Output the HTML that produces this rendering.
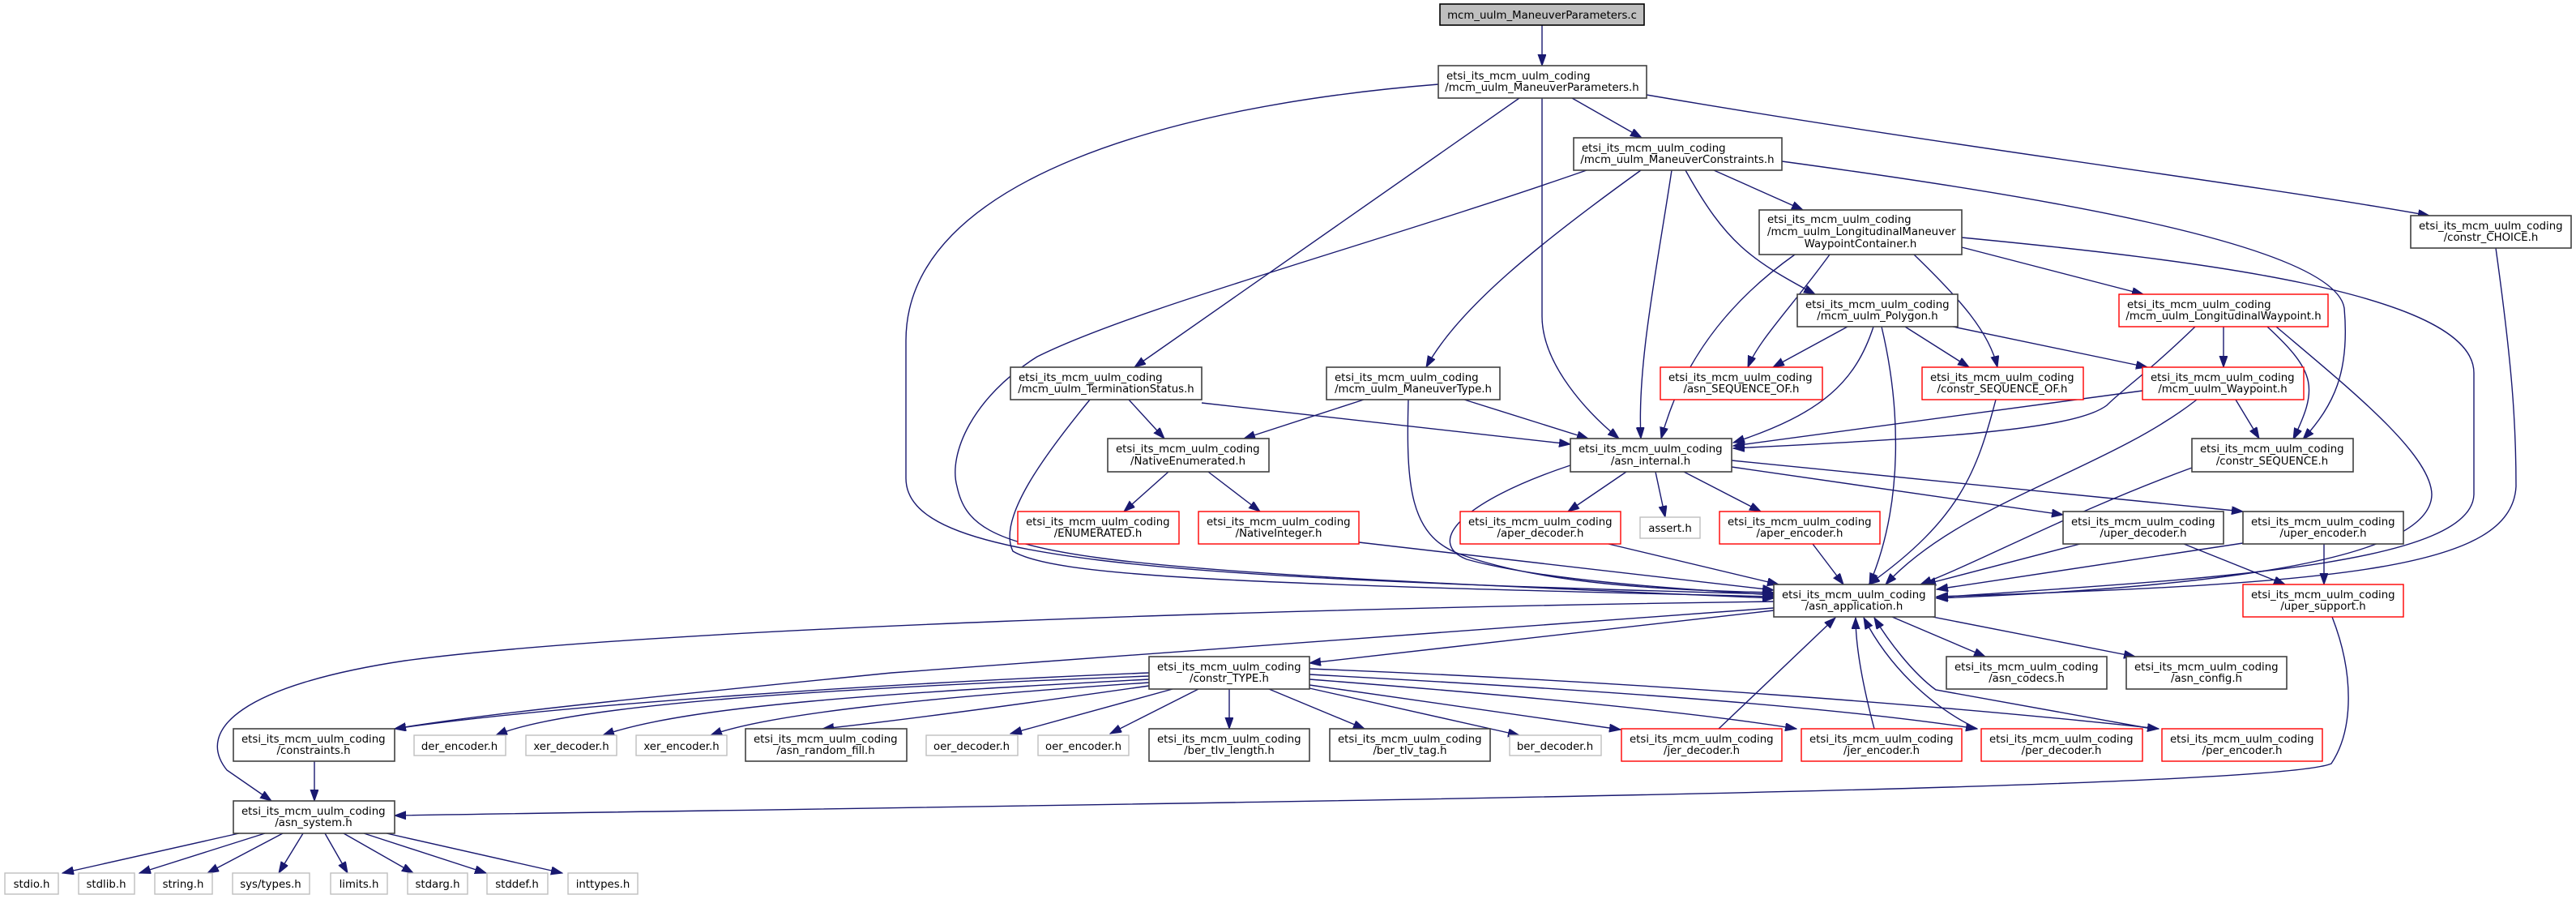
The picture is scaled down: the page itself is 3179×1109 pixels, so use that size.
<!DOCTYPE html>
<html><head><meta charset="utf-8"><style>
html,body{margin:0;padding:0;background:#fff;}
svg{display:block;}
text{font-family:"DejaVu Sans","Liberation Sans",sans-serif;font-size:13.3px;fill:#000;}
.e{fill:none;stroke:#191970;stroke-width:1.4;marker-end:url(#a);}
.b{fill:#fff;stroke:#404040;stroke-width:1.6;}
.r{fill:#fff;stroke:#ff0000;stroke-width:1.4;}
.g{fill:#fff;stroke:#bfbfbf;stroke-width:1.4;}
.m{text-anchor:middle;}
</style></head><body>
<svg width="3179" height="1109" viewBox="0 0 3179 1109" xmlns="http://www.w3.org/2000/svg">
<defs><marker id="a" markerUnits="userSpaceOnUse" markerWidth="15" markerHeight="11" refX="14" refY="5" orient="auto"><path d="M0,0 L14,5 L0,10 z" fill="#191970" stroke="#191970"/></marker></defs>
<!-- edges -->
<path class="e" d="M1903,31 L1903,81"/>
<path class="e" d="M1775,104 C1450,130 1118,220 1118,420 L1118,590 C1118,690 1400,712 2189,733"/>
<path class="e" d="M1940,121 L2026,170"/>
<path class="e" d="M1875,121 L1400,453"/>
<path class="e" d="M1903,121 L1903,390 C1903,450 1960,510 1998,541"/>
<path class="e" d="M2032,117 C2400,180 2800,230 2998,266"/>
<path class="e" d="M1958,210 C1700,300 1400,380 1280,440 C1200,490 1170,560 1181,600 C1200,690 1300,700 2189,738"/>
<path class="e" d="M2025,210 C1900,300 1800,380 1760,453"/>
<path class="e" d="M2063,210 C2045,330 2020,450 2025,541"/>
<path class="e" d="M2080,210 C2130,300 2160,320 2240,363"/>
<path class="e" d="M2115,210 L2225,259"/>
<path class="e" d="M2199,199 C2500,240 2880,300 2893,380 C2900,460 2880,500 2842,542"/>
<path class="e" d="M2215,314 C2150,360 2080,430 2050,541"/>
<path class="e" d="M2258,314 C2210,380 2170,420 2157,453"/>
<path class="e" d="M2362,314 C2420,370 2455,410 2465,453"/>
<path class="e" d="M2421,305 L2645,363"/>
<path class="e" d="M2421,293 C2700,320 3053,360 3053,460 L3053,610 C3050,700 2700,715 2390,737"/>
<path class="e" d="M2280,403 L2188,453"/>
<path class="e" d="M2351,403 L2430,453"/>
<path class="e" d="M2410,403 L2650,453"/>
<path class="e" d="M2312,403 C2290,470 2250,510 2139,546"/>
<path class="e" d="M2322,403 C2345,500 2350,620 2307,721"/>
<path class="e" d="M2709,403 C2650,460 2620,480 2600,500 C2560,530 2400,540 2139,553"/>
<path class="e" d="M2744,403 L2744,453"/>
<path class="e" d="M2798,403 C2860,460 2860,480 2830,542"/>
<path class="e" d="M2809,403 C2900,480 3000,560 3001,610 C3000,680 2800,722 2390,738"/>
<path class="e" d="M2644,482 L2139,550"/>
<path class="e" d="M2759,493 L2788,541"/>
<path class="e" d="M2711,493 C2600,580 2420,620 2327,721"/>
<path class="e" d="M2463,493 C2440,580 2420,640 2306,721"/>
<path class="e" d="M2705,577 C2560,630 2450,690 2370,721"/>
<path class="e" d="M3080,306 C3100,450 3105,520 3105,600 C3100,700 2900,720 2390,736"/>
<path class="e" d="M1393,493 L1437,541"/>
<path class="e" d="M1483,497 L1938,548"/>
<path class="e" d="M1345,493 C1290,560 1230,640 1250,680 C1300,710 1500,720 2189,736"/>
<path class="e" d="M1683,493 L1535,541"/>
<path class="e" d="M1807,493 L1960,541"/>
<path class="e" d="M1738,493 C1735,600 1740,660 1800,683 C1900,720 2050,728 2189,731"/>
<path class="e" d="M1442,582 L1387,631"/>
<path class="e" d="M1491,582 L1555,631"/>
<path class="e" d="M1677,669 L2189,728"/>
<path class="e" d="M2007,582 L1935,631"/>
<path class="e" d="M2043,582 L2055,638"/>
<path class="e" d="M2078,582 L2173,631"/>
<path class="e" d="M2137,576 L2546,635"/>
<path class="e" d="M2137,568 L2768,631"/>
<path class="e" d="M1938,574 C1800,620 1760,670 1810,690 C1900,715 2050,725 2189,734"/>
<path class="e" d="M1985,671 L2195,721"/>
<path class="e" d="M2237,671 L2275,721"/>
<path class="e" d="M2567,671 L2375,721"/>
<path class="e" d="M2695,671 L2820,721"/>
<path class="e" d="M2768,670 L2390,727"/>
<path class="e" d="M2868,671 L2868,721"/>
<path class="e" d="M2878,761 C2905,830 2905,900 2877,942 C2800,975 1500,990 487,1006"/>
<path class="e" d="M2335,761 L2450,810"/>
<path class="e" d="M2385,761 L2635,810"/>
<path class="e" d="M2189,753 L1616,818"/>
<path class="e" d="M2189,742 C1600,750 800,775 500,815 C300,845 240,900 280,950 L335,988"/>
<path class="e" d="M2189,750 L1100,830 C800,860 600,880 487,899"/>
<path class="e" d="M1418,830 C1100,843 700,868 487,899"/>
<path class="e" d="M1418,834 C1000,850 700,870 612,907"/>
<path class="e" d="M1418,838 C1100,855 850,870 744,907"/>
<path class="e" d="M1418,842 C1150,860 950,880 877,907"/>
<path class="e" d="M1418,846 C1250,870 1100,890 1015,899"/>
<path class="e" d="M1447,850 L1247,905"/>
<path class="e" d="M1479,850 L1370,905"/>
<path class="e" d="M1517,850 L1517,899"/>
<path class="e" d="M1566,850 L1684,899"/>
<path class="e" d="M1616,849 L1875,907"/>
<path class="e" d="M1616,845 L2000,900"/>
<path class="e" d="M1616,838 C1900,860 2100,880 2217,899"/>
<path class="e" d="M1616,832 C1950,850 2250,870 2440,899"/>
<path class="e" d="M1616,825 C2000,840 2400,870 2664,899"/>
<path class="e" d="M2121,899 L2265,762"/>
<path class="e" d="M2313,899 C2300,850 2290,800 2290,762"/>
<path class="e" d="M2440,899 C2380,870 2330,820 2300,762"/>
<path class="e" d="M2650,898 L2389,851 C2360,830 2330,790 2313,762"/>
<path class="e" d="M388,939 L388,988"/>
<path class="e" d="M295,1028 L77,1077"/>
<path class="e" d="M327,1028 L172,1077"/>
<path class="e" d="M349,1028 L256,1077"/>
<path class="e" d="M374,1028 L344,1077"/>
<path class="e" d="M401,1028 L429,1077"/>
<path class="e" d="M424,1028 L510,1077"/>
<path class="e" d="M449,1028 L600,1077"/>
<path class="e" d="M477,1028 L694,1077"/>
<!-- nodes -->
<rect x="1777" y="5" width="252" height="26" fill="#bfbfbf" stroke="#000" stroke-width="1.6"/><text x="1903" y="23" class="m">mcm_uulm_ManeuverParameters.c</text>
<rect class="b" x="1775" y="81" width="257" height="40"/><text x="1785" y="98">etsi_its_mcm_uulm_coding</text><text x="1903" y="112" class="m">/mcm_uulm_ManeuverParameters.h</text>
<rect class="b" x="1942" y="170" width="257" height="40"/><text x="1952" y="187">etsi_its_mcm_uulm_coding</text><text x="2070" y="201" class="m">/mcm_uulm_ManeuverConstraints.h</text>
<rect class="b" x="1247" y="453" width="236" height="40"/><text x="1257" y="470">etsi_its_mcm_uulm_coding</text><text x="1365" y="484" class="m">/mcm_uulm_TerminationStatus.h</text>
<rect class="b" x="1637" y="453" width="214" height="40"/><text x="1647" y="470">etsi_its_mcm_uulm_coding</text><text x="1744" y="484" class="m">/mcm_uulm_ManeuverType.h</text>
<rect class="b" x="2171" y="259" width="250" height="55"/><text x="2181" y="275">etsi_its_mcm_uulm_coding</text><text x="2181" y="290">/mcm_uulm_LongitudinalManeuver</text><text x="2296" y="305" class="m">WaypointContainer.h</text>
<rect class="b" x="2975" y="266" width="198" height="40"/><text x="2985" y="283">etsi_its_mcm_uulm_coding</text><text x="3074" y="297" class="m">/constr_CHOICE.h</text>
<rect class="b" x="2218" y="363" width="198" height="40"/><text x="2228" y="380">etsi_its_mcm_uulm_coding</text><text x="2317" y="394" class="m">/mcm_uulm_Polygon.h</text>
<rect class="r" x="2615" y="363" width="258" height="40"/><text x="2625" y="380">etsi_its_mcm_uulm_coding</text><text x="2744" y="394" class="m">/mcm_uulm_LongitudinalWaypoint.h</text>
<rect class="r" x="2049" y="453" width="200" height="40"/><text x="2059" y="470">etsi_its_mcm_uulm_coding</text><text x="2149" y="484" class="m">/asn_SEQUENCE_OF.h</text>
<rect class="r" x="2372" y="453" width="199" height="40"/><text x="2382" y="470">etsi_its_mcm_uulm_coding</text><text x="2471" y="484" class="m">/constr_SEQUENCE_OF.h</text>
<rect class="r" x="2644" y="453" width="199" height="40"/><text x="2654" y="470">etsi_its_mcm_uulm_coding</text><text x="2743" y="484" class="m">/mcm_uulm_Waypoint.h</text>
<rect class="b" x="1367" y="541" width="199" height="41"/><text x="1377" y="558">etsi_its_mcm_uulm_coding</text><text x="1466" y="573" class="m">/NativeEnumerated.h</text>
<rect class="b" x="1938" y="541" width="199" height="41"/><text x="1948" y="558">etsi_its_mcm_uulm_coding</text><text x="2037" y="573" class="m">/asn_internal.h</text>
<rect class="b" x="2705" y="541" width="199" height="41"/><text x="2715" y="558">etsi_its_mcm_uulm_coding</text><text x="2804" y="573" class="m">/constr_SEQUENCE.h</text>
<rect class="r" x="1256" y="631" width="199" height="40"/><text x="1266" y="648">etsi_its_mcm_uulm_coding</text><text x="1355" y="662" class="m">/ENUMERATED.h</text>
<rect class="r" x="1479" y="631" width="198" height="40"/><text x="1489" y="648">etsi_its_mcm_uulm_coding</text><text x="1578" y="662" class="m">/NativeInteger.h</text>
<rect class="r" x="1802" y="631" width="198" height="40"/><text x="1812" y="648">etsi_its_mcm_uulm_coding</text><text x="1901" y="662" class="m">/aper_decoder.h</text>
<rect class="g" x="2024" y="638" width="74" height="26"/><text x="2061" y="656" class="m">assert.h</text>
<rect class="r" x="2122" y="631" width="198" height="40"/><text x="2132" y="648">etsi_its_mcm_uulm_coding</text><text x="2221" y="662" class="m">/aper_encoder.h</text>
<rect class="b" x="2546" y="631" width="198" height="40"/><text x="2556" y="648">etsi_its_mcm_uulm_coding</text><text x="2645" y="662" class="m">/uper_decoder.h</text>
<rect class="b" x="2768" y="631" width="198" height="40"/><text x="2778" y="648">etsi_its_mcm_uulm_coding</text><text x="2867" y="662" class="m">/uper_encoder.h</text>
<rect class="b" x="2189" y="721" width="199" height="40"/><text x="2199" y="738">etsi_its_mcm_uulm_coding</text><text x="2288" y="752" class="m">/asn_application.h</text>
<rect class="r" x="2768" y="721" width="198" height="40"/><text x="2778" y="738">etsi_its_mcm_uulm_coding</text><text x="2867" y="752" class="m">/uper_support.h</text>
<rect class="b" x="1418" y="810" width="198" height="40"/><text x="1428" y="827">etsi_its_mcm_uulm_coding</text><text x="1517" y="841" class="m">/constr_TYPE.h</text>
<rect class="b" x="2402" y="810" width="198" height="40"/><text x="2412" y="827">etsi_its_mcm_uulm_coding</text><text x="2501" y="841" class="m">/asn_codecs.h</text>
<rect class="b" x="2624" y="810" width="198" height="40"/><text x="2634" y="827">etsi_its_mcm_uulm_coding</text><text x="2723" y="841" class="m">/asn_config.h</text>
<rect class="b" x="288" y="899" width="199" height="40"/><text x="298" y="916">etsi_its_mcm_uulm_coding</text><text x="387" y="930" class="m">/constraints.h</text>
<rect class="g" x="511" y="907" width="113" height="25"/><text x="567" y="925" class="m">der_encoder.h</text>
<rect class="g" x="649" y="907" width="112" height="25"/><text x="705" y="925" class="m">xer_decoder.h</text>
<rect class="g" x="785" y="907" width="112" height="25"/><text x="841" y="925" class="m">xer_encoder.h</text>
<rect class="b" x="920" y="899" width="199" height="40"/><text x="930" y="916">etsi_its_mcm_uulm_coding</text><text x="1019" y="930" class="m">/asn_random_fill.h</text>
<rect class="g" x="1143" y="907" width="113" height="25"/><text x="1199" y="925" class="m">oer_decoder.h</text>
<rect class="g" x="1281" y="907" width="112" height="25"/><text x="1337" y="925" class="m">oer_encoder.h</text>
<rect class="b" x="1418" y="899" width="198" height="40"/><text x="1428" y="916">etsi_its_mcm_uulm_coding</text><text x="1517" y="930" class="m">/ber_tlv_length.h</text>
<rect class="b" x="1641" y="899" width="198" height="40"/><text x="1651" y="916">etsi_its_mcm_uulm_coding</text><text x="1740" y="930" class="m">/ber_tlv_tag.h</text>
<rect class="g" x="1863" y="907" width="113" height="25"/><text x="1919" y="925" class="m">ber_decoder.h</text>
<rect class="r" x="2001" y="899" width="198" height="40"/><text x="2011" y="916">etsi_its_mcm_uulm_coding</text><text x="2100" y="930" class="m">/jer_decoder.h</text>
<rect class="r" x="2223" y="899" width="198" height="40"/><text x="2233" y="916">etsi_its_mcm_uulm_coding</text><text x="2322" y="930" class="m">/jer_encoder.h</text>
<rect class="r" x="2445" y="899" width="199" height="40"/><text x="2455" y="916">etsi_its_mcm_uulm_coding</text><text x="2544" y="930" class="m">/per_decoder.h</text>
<rect class="r" x="2668" y="899" width="198" height="40"/><text x="2678" y="916">etsi_its_mcm_uulm_coding</text><text x="2767" y="930" class="m">/per_encoder.h</text>
<rect class="b" x="288" y="988" width="199" height="40"/><text x="298" y="1005">etsi_its_mcm_uulm_coding</text><text x="387" y="1019" class="m">/asn_system.h</text>
<rect class="g" x="6" y="1077" width="66" height="26"/><text x="39" y="1095" class="m">stdio.h</text>
<rect class="g" x="97" y="1077" width="69" height="26"/><text x="131" y="1095" class="m">stdlib.h</text>
<rect class="g" x="191" y="1077" width="71" height="26"/><text x="226" y="1095" class="m">string.h</text>
<rect class="g" x="287" y="1077" width="95" height="26"/><text x="334" y="1095" class="m">sys/types.h</text>
<rect class="g" x="408" y="1077" width="70" height="26"/><text x="443" y="1095" class="m">limits.h</text>
<rect class="g" x="503" y="1077" width="74" height="26"/><text x="540" y="1095" class="m">stdarg.h</text>
<rect class="g" x="601" y="1077" width="75" height="26"/><text x="638" y="1095" class="m">stddef.h</text>
<rect class="g" x="701" y="1077" width="86" height="26"/><text x="744" y="1095" class="m">inttypes.h</text>
</svg>
</body></html>
